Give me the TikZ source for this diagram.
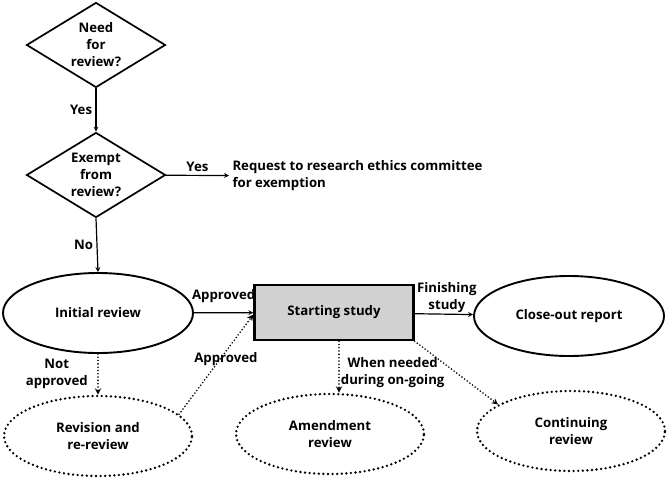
\documentclass[tikz,border=0pt]{standalone}
\usepackage{fontspec}
\setmainfont{Open Sans}
\usepackage{tikz}
\usetikzlibrary{positioning,shapes.geometric}

\begin{document}
\begin{tikzpicture}[x=1pt, y=-1pt, >=stealth,
	every node/.style={font=\fontsize{13.2}{17}\selectfont\bfseries, align=center},
	decision/.style={diamond, draw, line width=1.7pt, aspect=1.65, inner sep=0pt, minimum width=139pt, minimum height=85pt},
	review/.style={ellipse, draw, line width=1.9pt, minimum width=190pt, minimum height=80pt},
	dotted review/.style={ellipse, line width=2.6pt, line cap=round, dash pattern=on 0pt off 4.6pt, draw, minimum width=188pt, minimum height=80pt},
	stage/.style={rectangle, draw, line width=2.3pt, fill=gray!35, minimum width=159pt, minimum height=55pt},
	link/.style={->, line width=1.2pt},
	dotted link/.style={->, line width=1.8pt, line cap=round, dash pattern=on 0pt off 3.3pt}]

	\useasboundingbox (0,0) rectangle (668,482);

	%decisions
	\node [decision] (need) at (96,45) {Need\\for\\review?};
	\node [decision] (exempt) at (96,175) {Exempt\\from\\review?};
	\node [align=left, anchor=west] (request) at (229,176) {Request to research ethics committee\\for exemption};

	%reviews
	\node [review] (initial) at (98,313) {Initial review};
	\node [stage] (start) at (334,312.5) {Starting study};
	\node [review] (close) at (569,316) {Close-out report};

	\foreach \m/\l/\x/\y in {revision/{Revision and\\re-review}/98/436, amend/{Amendment\\review}/330/434, cont/{Continuing\\review}/571/431}
	  \node [dotted review] (\m) at (\x,\y) {\l};

	\draw [link] (need) -- node [left] {Yes} (exempt);
	\draw [link] (exempt) -- node [above] {Yes} (request);
	\draw [link] (exempt.south) -- node [left] {No} (initial.north);
	\draw [link] (initial) -- node [above=6pt] {Approved} (start);
	\draw [link] (start) -- node [above, inner sep=1pt, xshift=3pt] {Finishing\\study} (close);

	%dotted
	\draw [dotted link] (initial) -- node [left=6pt] {Not\\approved} (revision);
	\draw [dotted link] (revision.15) -- node [pos=0.55, xshift=6pt] {Approved} ([yshift=-2pt]start.west);
	\draw [dotted link] ([xshift=5pt]start.south) -- node [right, inner sep=1pt, yshift=-6pt] {When needed\\during on-going} ([xshift=5pt]start.south |- amend.north);
	\draw [dotted link] (start.south east) -- (cont.160);
\end{tikzpicture}
\end{document}
